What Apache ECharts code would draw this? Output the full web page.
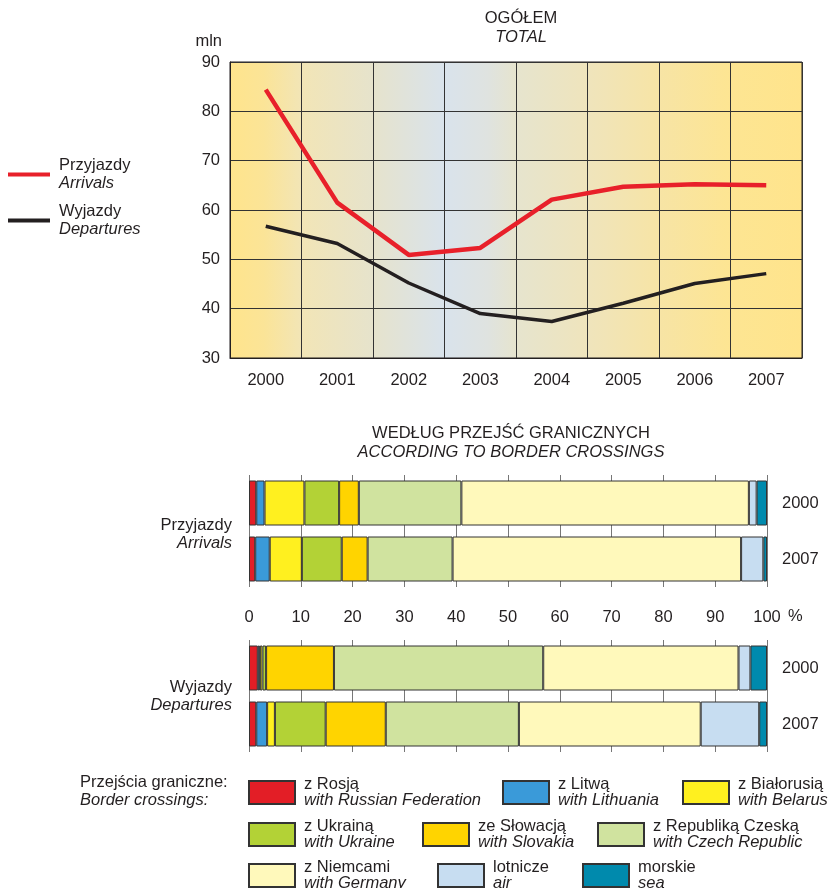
<!DOCTYPE html>
<html>
<head>
<meta charset="utf-8">
<script src="https://cdn.jsdelivr.net/npm/echarts@6/dist/echarts.min.js"></script>
<style>
  html, body { margin: 0; padding: 0; background: #fff; }
  #chart { width: 828px; height: 888px; }
</style>
</head>
<body>
<div id="chart"></div>
<script>
// totals, mln
const totalYears = ['2000', '2001', '2002', '2003', '2004', '2005', '2006', '2007']
const arrivalsTotal = [84.4, 61.5, 50.9, 52.3, 62.1, 64.7, 65.2, 65.0]
const departuresTotal = [56.7, 53.2, 45.2, 39.0, 37.4, 41.1, 45.1, 47.1]

// shares by border crossing, %
const barYears = ['2000', '2007']
const crossings = ['z Rosją', 'z Litwą', 'z Białorusią', 'z Ukrainą', 'ze Słowacją', 'z Republiką Czeską', 'z Niemcami', 'lotnicze', 'morskie']
const crossingsEn = ['with Russian Federation', 'with Lithuania', 'with Belarus', 'with Ukraine', 'with Slovakia', 'with Czech Republic', 'with Germany', 'air', 'sea']
const crossingColors = ['#E31E26', '#3A9AD9', '#FFF01F', '#B3D236', '#FFD400', '#D0E39F', '#FFF9BB', '#C7DDF1', '#008AAD']
const arrivals2000 = [1.4, 1.6, 7.7, 6.7, 3.8, 19.8, 55.5, 1.5, 2.0]
const arrivals2007 = [1.2, 2.8, 6.2, 7.7, 5.0, 16.4, 55.7, 4.3, 0.7]
const departures2000 = [1.7, 0.4, 0.5, 0.7, 13.1, 40.4, 37.7, 2.3, 3.2]
const departures2007 = [1.4, 2.1, 1.5, 9.8, 11.6, 25.7, 35.1, 11.3, 1.5]

const FONT = '"Liberation Sans", Arial, sans-serif'
const FS = 16.5
const INK = '#231F20'
const chart = echarts.init(document.getElementById('chart'))

const bgGradient = new echarts.graphic.LinearGradient(0, 0, 1, 0, [
  { offset: 0, color: '#FFE48C' },
  { offset: 0.06, color: '#FBE497' },
  { offset: 0.125, color: '#F2E5B6' },
  { offset: 0.25, color: '#E6E3CC' },
  { offset: 0.375, color: '#D9E3EC' },
  { offset: 0.45, color: '#DFE3E0' },
  { offset: 0.5, color: '#E6E4CE' },
  { offset: 0.625, color: '#EFE4BC' },
  { offset: 0.75, color: '#F7E4A5' },
  { offset: 0.875, color: '#FDE592' },
  { offset: 1, color: '#FFE48C' }
])

// legend positions for border crossings (one legend per item, irregular layout)
const legendPos = [
  [248, 776], [502, 776], [682, 776],
  [248, 818], [422, 818], [597, 818],
  [248, 859], [437, 859], [582, 859]
]

const barSeries = []
crossings.forEach((name, i) => {
  const style = { color: crossingColors[i], borderColor: '#333', borderWidth: 1 }
  barSeries.push({
    name, type: 'bar', stack: 'arr', xAxisIndex: 1, yAxisIndex: 1,
    barWidth: 45, itemStyle: style,
    data: [arrivals2000[i], arrivals2007[i]]
  })
  barSeries.push({
    name, type: 'bar', stack: 'dep', xAxisIndex: 2, yAxisIndex: 2,
    barWidth: 45, itemStyle: style,
    data: [departures2000[i], departures2007[i]]
  })
})

const crossingLegends = crossings.map((name, i) => ({
  data: [name],
  left: legendPos[i][0],
  top: legendPos[i][1],
  padding: 0,
  selectedMode: false,
  icon: 'rect',
  itemWidth: 46,
  itemHeight: 23,
  itemGap: 0,
  formatter: n => '{a|' + n + '}\n{b|' + crossingsEn[crossings.indexOf(n)] + '}',
  textStyle: {
    fontFamily: FONT,
    padding: [0, 0, 0, 4],
    rich: {
      a: { fontSize: FS, fontFamily: FONT, color: INK, lineHeight: 16 },
      b: { fontSize: FS, fontFamily: FONT, fontStyle: 'italic', color: INK, lineHeight: 16 }
    }
  }
}))

const option = {
  animation: false,
  textStyle: { fontFamily: FONT },
  title: [
    {
      text: 'OGÓŁEM', subtext: 'TOTAL',
      left: 521, top: 10, textAlign: 'center', itemGap: 2, padding: 0,
      textStyle: { fontSize: FS, fontWeight: 'normal', color: INK, fontFamily: FONT },
      subtextStyle: { fontSize: FS, fontStyle: 'italic', color: INK, fontFamily: FONT }
    },
    {
      text: 'WEDŁUG PRZEJŚĆ GRANICZNYCH', subtext: 'ACCORDING TO BORDER CROSSINGS',
      left: 511, top: 425, textAlign: 'center', itemGap: 2, padding: 0,
      textStyle: { fontSize: FS, fontWeight: 'normal', color: INK, fontFamily: FONT },
      subtextStyle: { fontSize: FS, fontStyle: 'italic', color: INK, fontFamily: FONT }
    }
  ],
  legend: [
    {
      data: ['Przyjazdy', 'Wyjazdy'],
      orient: 'vertical',
      left: 8, top: 157,
      padding: 0,
      selectedMode: false,
      itemWidth: 42, itemHeight: 4, itemGap: 11,
      icon: 'rect',
      formatter: n => n === 'Przyjazdy' ? '{a|Przyjazdy}\n{b|Arrivals}' : '{a|Wyjazdy}\n{b|Departures}',
      textStyle: {
        padding: [0, 0, 0, 4],
        rich: {
          a: { fontSize: FS, fontFamily: FONT, color: INK, lineHeight: 18 },
          b: { fontSize: FS, fontFamily: FONT, fontStyle: 'italic', color: INK, lineHeight: 18 }
        }
      }
    },
    ...crossingLegends
  ],
  grid: [
    { left: 230, right: 26, top: 62, height: 296, show: true, backgroundColor: bgGradient, borderColor: INK, borderWidth: 1 },
    { left: 249, right: 61, top: 475, height: 112 },
    { left: 249, right: 61, top: 640, height: 112 }
  ],
  xAxis: [
    {
      type: 'category', gridIndex: 0, data: totalYears,
      axisLine: { lineStyle: { color: INK } },
      axisTick: { show: false },
      axisLabel: { color: INK, fontSize: FS, margin: 14 },
      splitLine: { show: true, lineStyle: { color: '#333', width: 1 } }
    },
    {
      type: 'value', gridIndex: 1, min: 0, max: 100, interval: 10,
      axisLine: { show: false }, axisTick: { show: false },
      axisLabel: { color: INK, fontSize: FS, margin: 22 },
      splitLine: { show: true, lineStyle: { color: '#777', width: 1 } }
    },
    {
      type: 'value', gridIndex: 2, min: 0, max: 100, interval: 10,
      axisLine: { show: false }, axisTick: { show: false },
      axisLabel: { show: false },
      splitLine: { show: true, lineStyle: { color: '#777', width: 1 } }
    }
  ],
  yAxis: [
    {
      type: 'value', gridIndex: 0, min: 30, max: 90, interval: 10,
      name: 'mln', nameLocation: 'end', nameGap: 12,
      nameTextStyle: { color: INK, fontSize: FS, align: 'right', padding: [0, 8, 0, 0] },
      axisLine: { show: true, lineStyle: { color: INK } },
      axisTick: { show: false },
      axisLabel: { color: INK, fontSize: FS, margin: 10 },
      splitLine: { show: true, lineStyle: { color: '#333', width: 1 } }
    },
    {
      type: 'category', gridIndex: 1, data: barYears, inverse: true, position: 'right',
      axisLine: { show: false }, axisTick: { show: false },
      axisLabel: { color: INK, fontSize: FS, margin: 15 }
    },
    {
      type: 'category', gridIndex: 2, data: barYears, inverse: true, position: 'right',
      axisLine: { show: false }, axisTick: { show: false },
      axisLabel: { color: INK, fontSize: FS, margin: 15 }
    }
  ],
  series: [
    {
      name: 'Przyjazdy', type: 'line', xAxisIndex: 0, yAxisIndex: 0,
      data: arrivalsTotal, symbol: 'none',
      lineStyle: { color: '#E8202A', width: 4.5 }, itemStyle: { color: '#E8202A' }
    },
    {
      name: 'Wyjazdy', type: 'line', xAxisIndex: 0, yAxisIndex: 0,
      data: departuresTotal, symbol: 'none',
      lineStyle: { color: INK, width: 3.5 }, itemStyle: { color: INK }
    },
    ...barSeries
  ],
  graphic: [
    { type: 'text', right: 828 - 232, top: 517, style: { text: 'Przyjazdy', font: FS + 'px ' + FONT, fill: INK, textAlign: 'right' } },
    { type: 'text', right: 828 - 232, top: 535, style: { text: 'Arrivals', font: 'italic ' + FS + 'px ' + FONT, fill: INK, textAlign: 'right' } },
    { type: 'text', right: 828 - 232, top: 679, style: { text: 'Wyjazdy', font: FS + 'px ' + FONT, fill: INK, textAlign: 'right' } },
    { type: 'text', right: 828 - 232, top: 697, style: { text: 'Departures', font: 'italic ' + FS + 'px ' + FONT, fill: INK, textAlign: 'right' } },
    { type: 'text', left: 788, top: 608, style: { text: '%', font: FS + 'px ' + FONT, fill: INK } },
    { type: 'text', left: 80, top: 774, style: { text: 'Przejścia graniczne:', font: FS + 'px ' + FONT, fill: INK } },
    { type: 'text', left: 80, top: 792, style: { text: 'Border crossings:', font: 'italic ' + FS + 'px ' + FONT, fill: INK } }
  ]
}

chart.setOption(option)
</script>
</body>
</html>
